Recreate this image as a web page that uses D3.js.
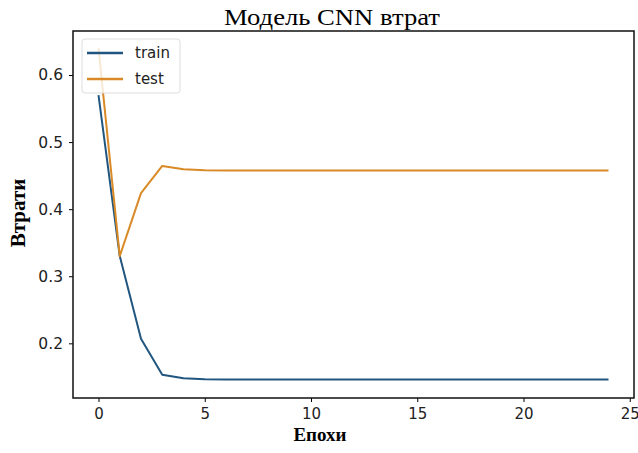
<!DOCTYPE html>
<html>
<head>
<meta charset="utf-8">
<script src="https://cdn.jsdelivr.net/npm/d3@7"></script>
<style>
  body { margin: 0; background: #fff; }
  svg { display: block; }
</style>
</head>
<body>
<svg width="638" height="453"></svg>
<script>
const width = 638, height = 453;
const svg = d3.select("svg");

// Data
const epochs = d3.range(0, 25);
const trainLoss = [0.57, 0.33, 0.207, 0.153, 0.148, 0.1465, 0.146, 0.146, 0.146, 0.146,
    0.146, 0.146, 0.146, 0.146, 0.146, 0.146, 0.146, 0.146, 0.146, 0.146,
    0.146, 0.146, 0.146, 0.146, 0.146];
const testLoss = [0.64, 0.33, 0.424, 0.4645, 0.4596, 0.458, 0.4575, 0.4575, 0.4575, 0.4575,
    0.4575, 0.4575, 0.4575, 0.4575, 0.4575, 0.4575, 0.4575, 0.4575, 0.4575, 0.4575,
    0.4575, 0.4575, 0.4575, 0.4575, 0.4575];
const xTicks = [0, 5, 10, 15, 20, 25];
const yTicks = [0.2, 0.3, 0.4, 0.5, 0.6];
const seriesNames = ["train", "test"];
const colors = ["#20567f", "#d98a26"];

const margin = { left: 73, right: 4, top: 31, bottom: 55 };

const xScale = d3.scaleLinear()
    .domain([-1.2, 25.2])
    .range([margin.left, width - margin.right]);

const yScale = d3.scaleLinear()
    .domain([0.1185, 0.6656])
    .range([height - margin.bottom, margin.top]);

// Axes
svg.append("g")
    .attr("transform", `translate(0,${height - margin.bottom})`)
    .call(d3.axisBottom(xScale).tickValues(xTicks).tickFormat(d3.format("d")).tickSize(4).tickPadding(6).tickSizeOuter(0))
    .call(g => g.select(".domain").remove())
    .selectAll(".tick text")
    .style("font-family", "DejaVu Sans").style("font-size", "15px").attr("fill", "#222");

svg.append("g")
    .attr("transform", `translate(${margin.left},0)`)
    .call(d3.axisLeft(yScale).tickValues(yTicks).tickFormat(d3.format(".1f")).tickSize(4).tickPadding(6).tickSizeOuter(0))
    .call(g => g.select(".domain").remove())
    .selectAll(".tick text")
    .style("font-family", "DejaVu Sans").style("font-size", "15.5px").attr("fill", "#222");

// Lines
const line = d3.line()
    .x((d, i) => xScale(epochs[i]))
    .y(d => yScale(d));

[trainLoss, testLoss].forEach((series, i) => {
    svg.append("path")
        .datum(series)
        .attr("d", line)
        .attr("fill", "none")
        .attr("stroke", colors[i])
        .attr("stroke-width", 2)
        .attr("stroke-linejoin", "round");
});

// Frame
svg.append("rect")
    .attr("x", margin.left)
    .attr("y", margin.top)
    .attr("width", width - margin.left - margin.right)
    .attr("height", height - margin.top - margin.bottom)
    .attr("fill", "none")
    .attr("stroke", "#111")
    .attr("stroke-width", 1.5);

// Legend
const legend = svg.append("g").attr("transform", "translate(82,39)");
legend.append("rect")
    .attr("width", 98).attr("height", 54).attr("rx", 3)
    .attr("fill", "white").attr("fill-opacity", 0.8)
    .attr("stroke", "#ddd");
seriesNames.forEach((name, i) => {
    const y = 14 + i * 26;
    legend.append("line")
        .attr("x1", 5).attr("x2", 41).attr("y1", y).attr("y2", y)
        .attr("stroke", colors[i]).attr("stroke-width", 2.5);
    legend.append("text")
        .attr("x", 53).attr("y", y + 5)
        .style("font-family", "DejaVu Sans").style("font-size", "15px")
        .attr("fill", "#222").text(name);
});

// Title and axis labels
svg.append("text")
    .attr("x", 332).attr("y", 25)
    .attr("text-anchor", "middle")
    .attr("textLength", 216).attr("lengthAdjust", "spacingAndGlyphs")
    .style("font-family", "Liberation Serif").style("font-size", "24px")
    .text("Модель CNN втрат");

svg.append("text")
    .attr("x", 320).attr("y", 441)
    .attr("text-anchor", "middle")
    .style("font-family", "Liberation Serif").style("font-size", "19px").style("font-weight", "bold")
    .text("Епохи");

svg.append("text")
    .attr("transform", "rotate(-90)")
    .attr("x", -213).attr("y", 25)
    .attr("text-anchor", "middle")
    .style("font-family", "Liberation Serif").style("font-size", "21px").style("font-weight", "bold")
    .text("Втрати");
</script>
</body>
</html>
